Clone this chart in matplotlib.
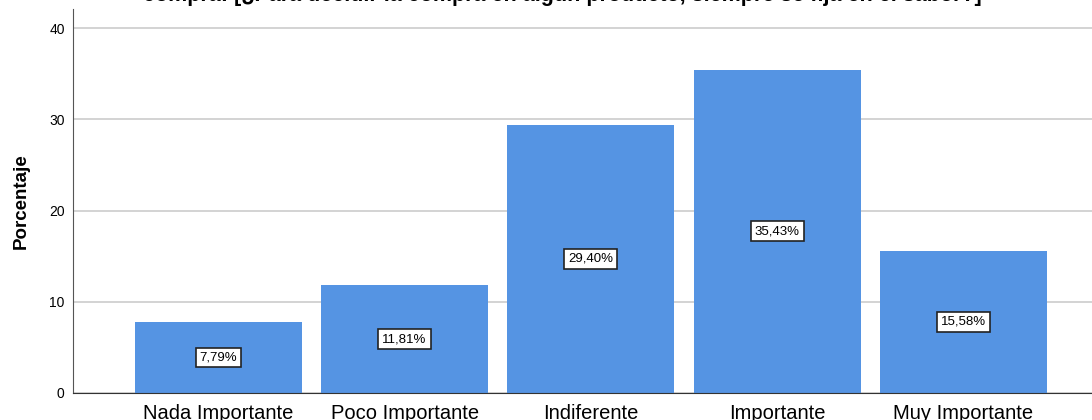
import matplotlib
matplotlib.use("Agg")
import matplotlib.pyplot as plt

plt.rcParams['font.family'] = ['Liberation Sans', 'DejaVu Sans']

categorias = ["Nada Importante", "Poco Importante", "Indiferente", "Importante", "Muy Importante"]
porcentajes = [7.79, 11.81, 29.40, 35.43, 15.58]
yticks = [0, 10, 20, 30, 40]
titulo = "compra: [¿Para decidir la compra en algún producto, siempre se fija en el sabor?]"

fig = plt.figure(figsize=(10.92, 4.2), dpi=100)
ax = fig.add_axes([73/1092, 27/420, 1 - 73/1092, 384/420])

x = list(range(len(categorias)))
ax.bar(x, porcentajes, width=0.897, color='#5594e3', zorder=2)

# etiquetas de porcentaje centradas en cada barra
for xi, v in zip(x, porcentajes):
    ax.text(xi, v/2, f"{v:.2f}%".replace('.', ','), ha='center', va='center',
            fontsize=9.5, color='black', zorder=3,
            bbox=dict(boxstyle='square,pad=0.3', fc='white', ec='#222222', lw=1.2))

ax.set_xlim(-0.78, 4.69)
ax.set_ylim(0, 42.1)
ax.set_yticks(yticks)
ax.set_xticks(x)
ax.set_xticklabels(categorias, fontsize=14.5)
ax.tick_params(axis='x', length=0, pad=8)
ax.tick_params(axis='y', length=0, pad=6, labelsize=10)
ax.yaxis.grid(True, color='#cccccc', lw=1.2, zorder=0)
ax.set_axisbelow(True)

for s in ['top', 'right']:
    ax.spines[s].set_visible(False)
ax.spines['left'].set_color('#555555')
ax.spines['bottom'].set_color('#333333')

ax.set_ylabel("Porcentaje", fontsize=13.5, fontweight='bold', labelpad=14)

fig.text(562/1092, 1 - 1.5/420, titulo, ha='center', va='baseline',
         fontsize=15.5, fontweight='bold')

fig.savefig("out.png", dpi=100)
